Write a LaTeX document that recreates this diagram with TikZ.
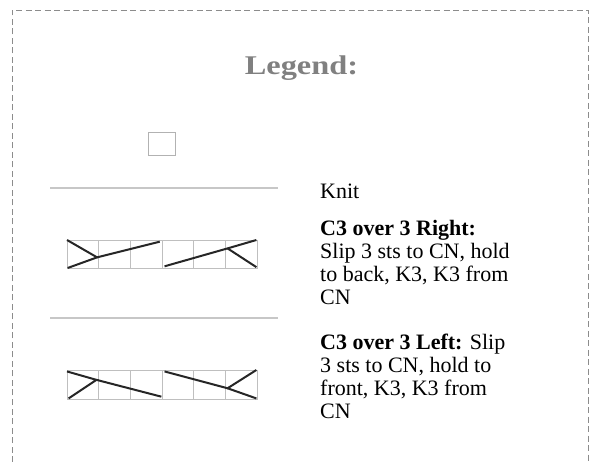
\documentclass[tikz,border=0pt]{standalone}
\usepackage{fontspec}
\setmainfont{Liberation Serif}
\newfontfamily\titlefont[FakeStretch=1.2]{Liberation Serif}

\begin{document}
\begin{tikzpicture}[x=1pt,y=-1pt,
    frame/.style={draw=black!45, line width=0.9pt, dash pattern=on 6pt off 3.5pt},
    rule/.style={draw=black!22, line width=1.6pt},
    grid/.style={draw=black!25, line width=0.8pt},
    cable/.style={draw=black!85, line width=2pt},
    desc/.style={anchor=north west, align=left, inner sep=0pt,
      font=\fontsize{22}{23}\selectfont}]
  \useasboundingbox (0,0) rectangle (592,462);
  \draw[frame] (12,462) -- (12,10) -- (588,10) -- (588,462);

  \node[anchor=base, inner sep=0pt, text=black!50,
    font=\titlefont\fontsize{27}{30}\selectfont\bfseries] (title) at (301.5,75) {Legend:};

  % knit
  \node[draw=black!30, line width=0.8pt, minimum width=27pt, minimum height=23pt,
    inner sep=0pt] (knitbox) at (162,144) {};
  \node[desc, anchor=base west] (knit) at (320,199) {Knit};
  \draw[rule] (50,188) -- (278,188);

  % C3 over 3 Right
  \begin{scope}[xshift=67pt, yshift=-268pt, x=31.67pt, y=28pt]
    \foreach \i in {0,...,5} \draw[grid] (\i,0) rectangle (\i+1,1);
    \draw[cable] (0,1) -- (0.95,0.38) -- (0.02,0);
    \draw[cable] (0.95,0.38) -- (2.93,0.94);
    \draw[cable] (3.08,0.06) -- (5.07,0.7) -- (5.98,1);
    \draw[cable] (5.07,0.7) -- (5.98,0.03);
  \end{scope}
  \node[desc] (right) at (320,220)
    {\textbf{C3 over 3 Right:}\\Slip 3 sts to CN, hold\\to back, K3, K3 from\\CN};
  \draw[rule] (50,318) -- (278,318);

  % C3 over 3 Left
  \begin{scope}[xshift=67pt, yshift=-399pt, x=31.67pt, y=29pt]
    \foreach \i in {0,...,5} \draw[grid] (\i,0) rectangle (\i+1,1);
    \draw[cable] (0,0.95) -- (0.93,0.66) -- (0.05,0.02);
    \draw[cable] (0.93,0.66) -- (2.98,0.08);
    \draw[cable] (3.08,0.95) -- (5.07,0.37) -- (5.98,1);
    \draw[cable] (5.07,0.37) -- (5.98,0.02);
  \end{scope}
  \node[desc] (left) at (320,334)
    {\textbf{C3 over 3 Left:} Slip\\3 sts to CN, hold to\\front, K3, K3 from\\CN};
\end{tikzpicture}
\end{document}
